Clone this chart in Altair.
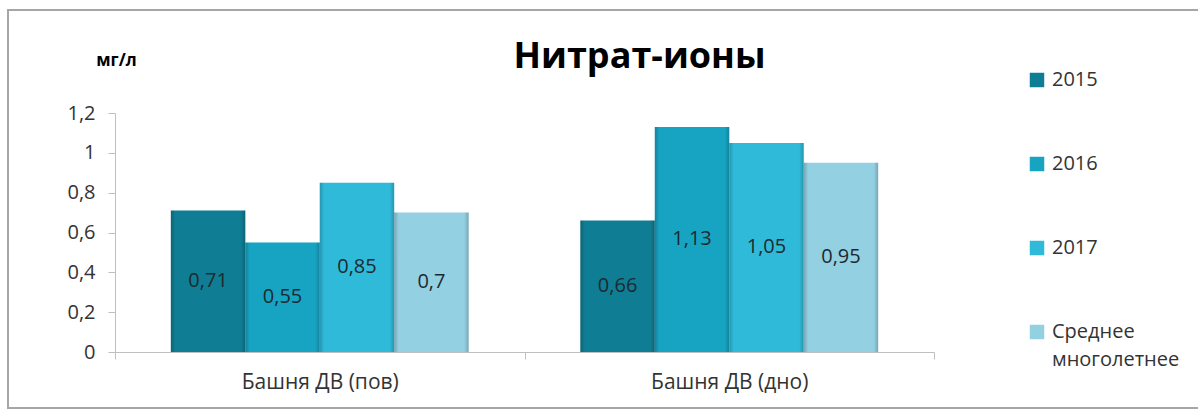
import altair as alt
import pandas as pd

# Nitrate-ion concentrations (mg/l) at the two sampling points of the tower
categories = ["Башня ДВ (пов)", "Башня ДВ (дно)"]
series = ["2015", "2016", "2017", "Среднее многолетнее"]
values_surface = [0.71, 0.55, 0.85, 0.7]
values_bottom = [0.66, 1.13, 1.05, 0.95]
series_colors = ["#0f7d93", "#17a3c2", "#2fbad9", "#93d0e2"]
y_ticks = [0, 0.2, 0.4, 0.6, 0.8, 1.0, 1.2]

rows = []
for station, vals in zip(categories, [values_surface, values_bottom]):
    for s, v in zip(series, vals):
        rows.append({"station": station, "series": s, "value": v})
df = pd.DataFrame(rows)

FONT = "Open Sans"
TEXT = "#333333"
AXIS_GRAY = "#bfbfbf"
W, H = 819, 239
LEFT, TOP = 115, 113

x_enc = alt.X(
    "station:N",
    sort=categories,
    title=None,
    scale=alt.Scale(paddingInner=0, paddingOuter=0),
    axis=alt.Axis(
        tickBand="extent",
        labelAngle=0,
        labelFont=FONT,
        labelFontSize=21,
        labelColor=TEXT,
        labelPadding=12,
        tickSize=7,
        tickColor=AXIS_GRAY,
        domainColor=AXIS_GRAY,
    ),
)
xo_enc = alt.XOffset(
    "series:N", sort=series, scale=alt.Scale(paddingInner=0, paddingOuter=0.75)
)
y_scale = alt.Scale(domain=[0, 1.2], nice=False)
y_axis = alt.Axis(
    values=y_ticks,
    labelExpr="replace(toString(datum.value), '.', ',')",
    title="мг/л",
    titleAngle=0,
    titleX=1,
    titleY=-53,
    titleAlign="center",
    titleBaseline="middle",
    titleFont=FONT,
    titleFontSize=17,
    titleFontWeight="bold",
    titleColor="#000000",
    grid=False,
    labelFont=FONT,
    labelFontSize=20,
    labelColor=TEXT,
    labelPadding=13,
    tickSize=7,
    tickColor=AXIS_GRAY,
    domainColor=AXIS_GRAY,
)

bars = alt.Chart(df).mark_bar().encode(
    x=x_enc,
    xOffset=xo_enc,
    y=alt.Y("value:Q", scale=y_scale, axis=y_axis),
    color=alt.Color(
        "series:N",
        sort=series,
        scale=alt.Scale(domain=series, range=series_colors),
        legend=alt.Legend(
            title=None,
            orient="none",
            legendX=912,
            legendY=-43,
            symbolType="square",
            symbolSize=210,
            symbolStrokeWidth=0,
            labelFont=FONT,
            labelFontSize=20,
            labelColor=TEXT,
            labelOffset=5,
            labelLimit=0,
            rowPadding=64,
            labelExpr="datum.label == 'Среднее многолетнее' ? ['Среднее', 'многолетнее'] : datum.label",
        ),
    ),
)

# soft bevel shading (darker side edges) laid over every bar
bevel = alt.Chart(df).mark_bar(
    fill={
        "gradient": "linear",
        "x1": 0, "y1": 0, "x2": 1, "y2": 0,
        "stops": [
            {"offset": 0, "color": "rgba(0,0,0,0.20)"},
            {"offset": 0.06, "color": "rgba(0,0,0,0)"},
            {"offset": 0.94, "color": "rgba(0,0,0,0)"},
            {"offset": 1, "color": "rgba(0,0,0,0.20)"},
        ],
    }
).encode(
    x=x_enc,
    xOffset=xo_enc,
    y=alt.Y("value:Q", scale=y_scale, axis=y_axis),
)

labels = (
    alt.Chart(df)
    .transform_calculate(
        mid="datum.value / 2",
        label="replace(toString(datum.value), '.', ',')",
    )
    .mark_text(font=FONT, fontSize=20, color="#1d2a30", baseline="middle")
    .encode(
        x=x_enc,
        xOffset=xo_enc,
        y=alt.Y("mid:Q", scale=y_scale, axis=y_axis),
        text="label:N",
    )
)

# thin grey border around the whole figure
frame = (
    alt.Chart(pd.DataFrame({"k": [0]}))
    .mark_rect(fill="transparent", stroke="#a6a6a6", strokeWidth=2)
    .encode(
        x=alt.value(8 - LEFT),
        x2=alt.value(1210 - LEFT),
        y=alt.value(10 - TOP),
        y2=alt.value(408 - TOP),
    )
)

chart = (
    alt.layer(frame, bars, bevel, labels)
    .properties(
        width=W,
        height=H,
        title=alt.TitleParams(
            "Нитрат-ионы",
            font=FONT,
            fontSize=36,
            fontWeight="bold",
            color="#000000",
            anchor="middle",
            frame="group",
            baseline="alphabetic",
            offset=0,
            dx=115,
            dy=95,
        ),
        autosize=alt.AutoSizeParams(type="none"),
        padding={"left": LEFT, "top": TOP, "right": 1198 - LEFT - W, "bottom": 410 - TOP - H},
    )
    .configure(
        background="white",
        style={"guide-label": {"lineHeight": 28}},
        view=alt.ViewConfig(stroke="#ffffff", strokeWidth=1),
    )
)

chart.save("out.html", embed_options={"renderer": "svg", "actions": False})
